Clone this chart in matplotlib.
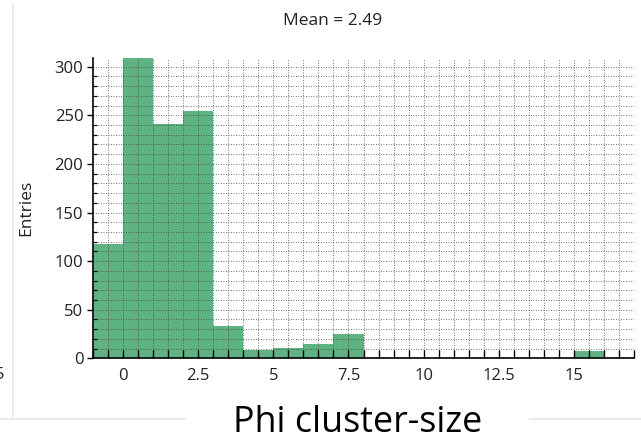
import matplotlib
matplotlib.use("Agg")
import matplotlib.pyplot as plt
from matplotlib.ticker import MultipleLocator
from matplotlib.lines import Line2D

# Histogram content: unit-width bins starting at -1
bin_edges = list(range(-1, 18))
counts = [118, 309, 241, 254, 33, 8.5, 11, 15, 25, 0, 0, 0, 0, 0, 0, 0, 7, 0]
x_ticks = [0, 2.5, 5, 7.5, 10, 12.5, 15]
x_tick_labels = ["0", "2.5", "5", "7.5", "10", "12.5", "15"]
y_ticks = [0, 50, 100, 150, 200, 250, 300]
title_text = "Mean = 2.49"
y_label = "Entries"
x_caption = "Phi cluster-size"

W, H = 641, 437
fig = plt.figure(figsize=(W / 100, H / 100), dpi=100)
fig.patch.set_facecolor("white")

ax_l, ax_r, ax_t, ax_b = 93, 634, 57.5, 358.3
ax = fig.add_axes([ax_l / W, 1 - ax_b / H, (ax_r - ax_l) / W, (ax_b - ax_t) / H])

green = "#5fb382"
ax.bar(bin_edges[:-1], counts, width=1.0, align="edge", color=green,
       edgecolor="none", zorder=1)

ax.set_xlim(-1, 17)
ax.set_ylim(0, 309.5)

ax.set_xticks(x_ticks)
ax.set_xticklabels(x_tick_labels)
ax.set_yticks(y_ticks)
ax.xaxis.set_minor_locator(MultipleLocator(0.5))
ax.yaxis.set_minor_locator(MultipleLocator(10))

ax.grid(True, which="both", color="#444444", linestyle=(0, (1, 2)),
        linewidth=0.6, zorder=2)
ax.set_axisbelow(False)

for s in ("top", "right"):
    ax.spines[s].set_visible(False)
for s in ("left", "bottom"):
    ax.spines[s].set_linewidth(1.2)
    ax.spines[s].set_color("black")

fs = 12
ax.tick_params(axis="x", which="both", direction="in", length=6, width=1.0,
               pad=7, labelsize=fs, colors="black", labelcolor="#222222")
ax.tick_params(axis="y", which="major", direction="out", length=4, width=1.0,
               pad=3, labelsize=fs, colors="black", labelcolor="#222222")
ax.tick_params(axis="y", which="minor", direction="in", length=3, width=0.9,
               colors="black")
for lab in ax.get_xticklabels() + ax.get_yticklabels():
    lab.set_family("Open Sans")

ax.set_ylabel(y_label, family="Open Sans", size=12.5, color="#222222")
ax.yaxis.set_label_coords((34 - ax_l) / (ax_r - ax_l), 0.5)

fig.text(333 / W, 1 - 21 / H, title_text, ha="center", va="center",
         family="Open Sans", size=12.5, color="#222222")

fig.text(358 / W, 1 - 431.5 / H, x_caption, ha="center", va="baseline",
         family="Open Sans", size=25.8, color="black")

# Neighbouring panel remnants: light frame lines and a clipped tick label
fig.add_artist(Line2D([13 / W, 13 / W], [1 - 5 / H, 1 - 418 / H],
                      transform=fig.transFigure, color="#ebebeb", lw=1.5))
fig.add_artist(Line2D([0, 185 / W], [1 - 418.5 / H, 1 - 418.5 / H],
                      transform=fig.transFigure, color="#ebebeb", lw=1.5))
fig.add_artist(Line2D([530 / W, 1], [1 - 419 / H, 1 - 419 / H],
                      transform=fig.transFigure, color="#ebebeb", lw=1.5))
fig.text(4 / W, 1 - 375 / H, "5", ha="right", va="center",
         family="Open Sans", size=fs, color="#222222")

fig.savefig("out.png", dpi=100)
